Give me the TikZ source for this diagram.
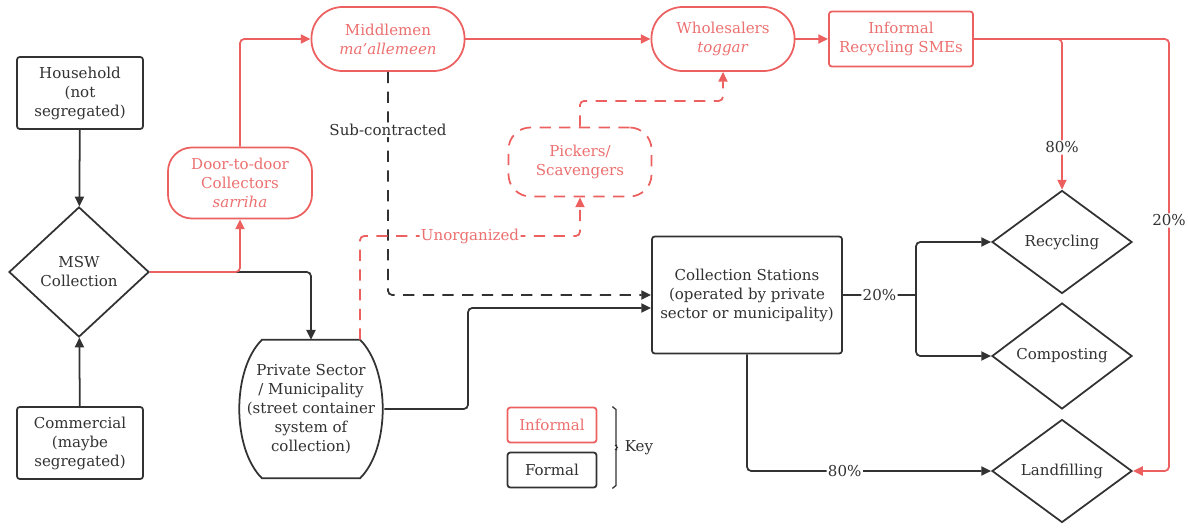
\documentclass[tikz,border=0pt]{standalone}
\usepackage{fontspec}
\setmainfont{DejaVu Serif}
\usetikzlibrary{arrows.meta,shapes.geometric,calc,decorations.pathreplacing}
\definecolor{infred}{RGB}{236,96,96}
\definecolor{inftext}{RGB}{236,112,112}
\definecolor{formgray}{RGB}{50,50,50}

\begin{document}
\begin{tikzpicture}[
        x=0.025cm, y=-0.025cm,
        every node/.style={align=center, text=formgray, font=\fontsize{10.7}{13.5}\selectfont},
        boxn/.style={draw=formgray, line width=1.25pt, rounded corners=2pt, minimum width=3.15cm, minimum height=1.8cm},
        decn/.style={draw=formgray, line width=1.25pt, diamond, inner sep=0pt, minimum width=3.5cm, minimum height=2.575cm},
        redn/.style={draw=infred, text=inftext, line width=1.25pt},
        pilln/.style={redn, rounded corners=0.78cm, minimum width=3.6cm, minimum height=1.6cm},
        lbl/.style={fill=white, inner sep=1pt},
        blackl/.style={draw=formgray, line width=1.25pt, rounded corners=3pt},
        redl/.style={draw=infred, line width=1.25pt, rounded corners=3pt},
        dashl/.style={dash pattern=on 8pt off 6pt},
        >={Triangle[length=7pt,width=6.5pt]},
    ]
    \useasboundingbox (0,0) rectangle (1188,531);
    % formal nodes
    \node[boxn](house) at (80,93) {Household\\(not\\segregated)};
    \node[decn, minimum height=3.25cm](msw) at (79,272) {MSW\\Collection};
    \node[boxn](comm) at (80,443) {Commercial\\(maybe\\segregated)};
    \node[minimum width=3.65cm, minimum height=3.45cm](priv) at (311,409) {Private Sector\\/ Municipality\\(street container\\system of\\collection)};
    \node[boxn, minimum width=4.75cm, minimum height=2.925cm](cs) at (747,295) {Collection Stations\\(operated by private\\sector or municipality)};
    \node[decn](rec) at (1062,242) {Recycling};
    \node[decn](comp) at (1062,356) {Composting};
    \node[decn](land) at (1062,471) {Landfilling};
    % informal nodes
    \node[pilln, rounded corners=0.6cm, minimum height=1.775cm](door) at (240,183) {Door-to-door\\Collectors\\\textit{sarriha}};
    \node[pilln, minimum width=3.825cm](mid) at (388,39) {Middlemen\\\textit{ma’allemeen}};
    \node[pilln, minimum width=3.575cm](whole) at (723,39) {Wholesalers\\\textit{toggar}};
    \node[redn, rounded corners=2pt, minimum width=3.6cm, minimum height=1.375cm](sme) at (901,39) {Informal\\Recycling SMEs};
    \node[redn, dashl, rounded corners=0.55cm, minimum width=3.575cm, minimum height=1.725cm](pick) at (580,162) {Pickers/\\Scavengers};
    % key
    \node[redn, rounded corners=2pt, minimum width=2.225cm, minimum height=0.875cm](kinf) at (552,425) {Informal};
    \node[boxn, minimum width=2.225cm, minimum height=0.875cm](kform) at (552,470) {Formal};

    % outline of the private sector node
    \draw[blackl, sharp corners] ($(priv.north)+(-49,0)$) -- ($(priv.north)+(49,0)$)
        .. controls ($(priv.north east)+(6,30)$) and ($(priv.south east)+(6,-30)$) .. ($(priv.south)+(49,0)$)
        -- ($(priv.south)+(-49,0)$)
        .. controls ($(priv.south west)+(-6,-30)$) and ($(priv.north west)+(-6,30)$) .. cycle;

    \coordinate (pne) at ($(priv.north)+(49,0)$);
    \coordinate (uturn) at (pick.south |- 0,236);
    \coordinate (rturn) at (1169,39);
    \coordinate (split) at (916,295);
    \coordinate (cin) at ($(cs.west)+(0,13)$);
    \coordinate (pturn) at (468,409);

    % formal flows
    \draw[blackl, ->] (house) -- (msw);
    \draw[blackl, ->] (comm) -- (msw);
    \draw[blackl, ->] (msw.east) -| (priv.north);
    \draw[blackl, dashl, ->] (mid.south) |- node[lbl, pos=0.13]{Sub-contracted} (cs.west);
    \draw[blackl, ->] (priv.east) -| (pturn |- cin) -- (cin);
    \draw[blackl] (cs.east) -- node[lbl]{20\%} (split);
    \draw[blackl, ->] (split) |- (rec.west);
    \draw[blackl, ->] (split) |- (comp.west);
    \draw[blackl, ->] (cs.south) |- node[lbl, pos=0.7]{80\%} (land.west);

    % informal flows
    \draw[redl, ->] (msw.east) -| (door.south);
    \draw[redl, ->] (door.north) |- (mid.west);
    \draw[redl, ->] (mid) -- (whole);
    \draw[redl, ->] (whole) -- (sme);
    \draw[redl, ->] (sme.east) -| node[lbl, pos=0.86]{80\%} (rec.north);
    \draw[redl, ->] (sme.east) -- (rturn) |- node[lbl, pos=0.21]{20\%} (land.east);
    \draw[redl, dashl, ->] (pne) |- node[lbl, text=inftext, pos=0.75]{Unorganized} (uturn) -- (pick.south);
    \draw[redl, dashl, ->] (pick.north) |- ($(whole.south)+(0,29)$) -- (whole.south);

    % key brace
    \draw[blackl, line width=0.9pt, decorate, decoration={brace, amplitude=5pt}] ($(kinf.north east)+(15,0)$) -- ($(kform.south east)+(15,0)$) node[midway, right=5pt](keylbl){Key};
\end{tikzpicture}
\end{document}
